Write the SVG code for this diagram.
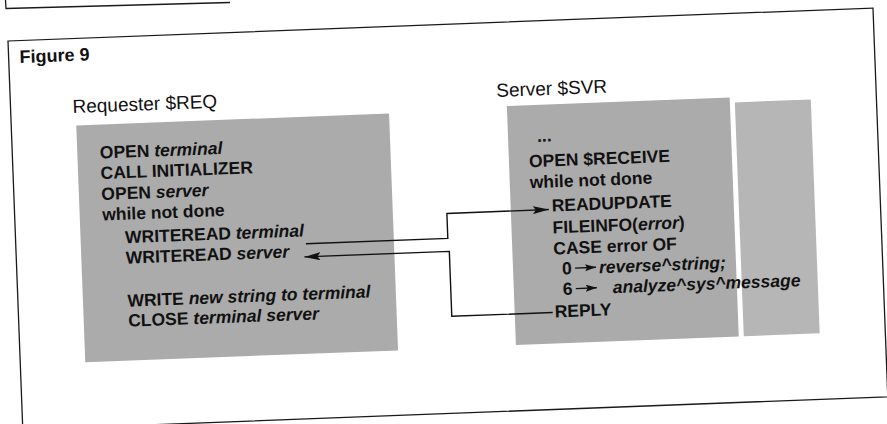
<svg xmlns="http://www.w3.org/2000/svg" width="887" height="424" viewBox="0 0 887 424">
<defs>
<style>
.frame{fill:none;stroke:#1a1a1a;stroke-width:1.3}
.shade{fill:#ababab}
.shade2{fill:#b6b6b6}
.title{font-family:"Liberation Sans",Arial,sans-serif;font-size:18px;font-weight:bold;fill:#111}
.hdr{font-family:"Liberation Sans",Arial,sans-serif;font-size:19px;fill:#111}
.code{font-family:"Liberation Sans",Arial,sans-serif;font-size:17.5px;font-weight:bold;fill:#111}
.it{font-style:italic}
.conn{fill:none;stroke:#111;stroke-width:1.4}
.mini{fill:none;stroke:#111;stroke-width:1.4}
</style>
<marker id="ah" viewBox="0 0 16 8" refX="16" refY="4" markerWidth="16" markerHeight="8" markerUnits="userSpaceOnUse" orient="auto">
<path d="M0,0 L16,4 L0,8 L3,4 z" fill="#111"/>
</marker>
<marker id="ahs" viewBox="0 0 11 7" refX="11" refY="3.5" markerWidth="11" markerHeight="7" markerUnits="userSpaceOnUse" orient="auto">
<path d="M0,0 L11,3.5 L0,7 L2,3.5 z" fill="#111"/>
</marker>
</defs>
<rect width="887" height="424" fill="#fff"/>
<path class="frame" d="M5.5,0 L6,8.5 L230,2.5"/>
<g transform="rotate(-2.18 8 41)">
  <rect class="frame" x="8" y="41" width="865.6" height="389"/>
  <text class="title" x="19" y="63.5">Figure 9</text>
  <g id="requester">
    <text class="hdr" x="70" y="115.5">Requester $REQ</text>
    <rect class="shade" x="73" y="128" width="313" height="237"/>
    <text class="code" x="95.5" y="162">OPEN <tspan class="it">terminal</tspan></text>
    <text class="code" x="95.5" y="182.5">CALL INITIALIZER</text>
    <text class="code" x="95.5" y="203.5">OPEN <tspan class="it">server</tspan></text>
    <text class="code" x="95.5" y="224">while not done</text>
    <text class="code" x="117.5" y="247.5">WRITEREAD <tspan class="it">terminal</tspan></text>
    <text class="code" x="117.5" y="268">WRITEREAD <tspan class="it">server</tspan></text>
    <text class="code" x="117.5" y="311">WRITE <tspan class="it">new string to terminal</tspan></text>
    <text class="code" x="117.5" y="331">CLOSE <tspan class="it">terminal server</tspan></text>
  </g>
  <g id="server">
    <text class="hdr" x="494" y="115.5">Server $SVR</text>
    <rect class="shade" x="504" y="125" width="223" height="239"/>
    <rect class="shade2" x="732" y="130" width="76" height="234"/>
    <text class="code" x="533" y="162">...</text>
    <text class="code" x="524" y="187">OPEN $RECEIVE</text>
    <text class="code" x="524" y="208">while not done</text>
    <text class="code" x="545" y="232">READUPDATE</text>
    <text class="code" x="545" y="254">FILEINFO(<tspan class="it">error</tspan>)</text>
    <text class="code" x="545" y="275">CASE error OF</text>
    <text class="code" x="553" y="295.5">0</text>
    <path class="mini" d="M566,289.5 H587" marker-end="url(#ahs)"/>
    <text class="code" x="590" y="295.5"><tspan class="it">reverse^string;</tspan></text>
    <text class="code" x="553" y="316">6</text>
    <path class="mini" d="M566,310 H587" marker-end="url(#ahs)"/>
    <text class="code" x="603" y="316"><tspan class="it">analyze^sys^message</tspan></text>
    <text class="code" x="544" y="338">REPLY</text>
  </g>
  <g id="connectors">
    <path class="conn" d="M298,255 H440 V230 H542" marker-end="url(#ah)"/>
    <path class="conn" d="M542,333 H441 V268 H296" marker-end="url(#ah)"/>
  </g>
</g>
</svg>
